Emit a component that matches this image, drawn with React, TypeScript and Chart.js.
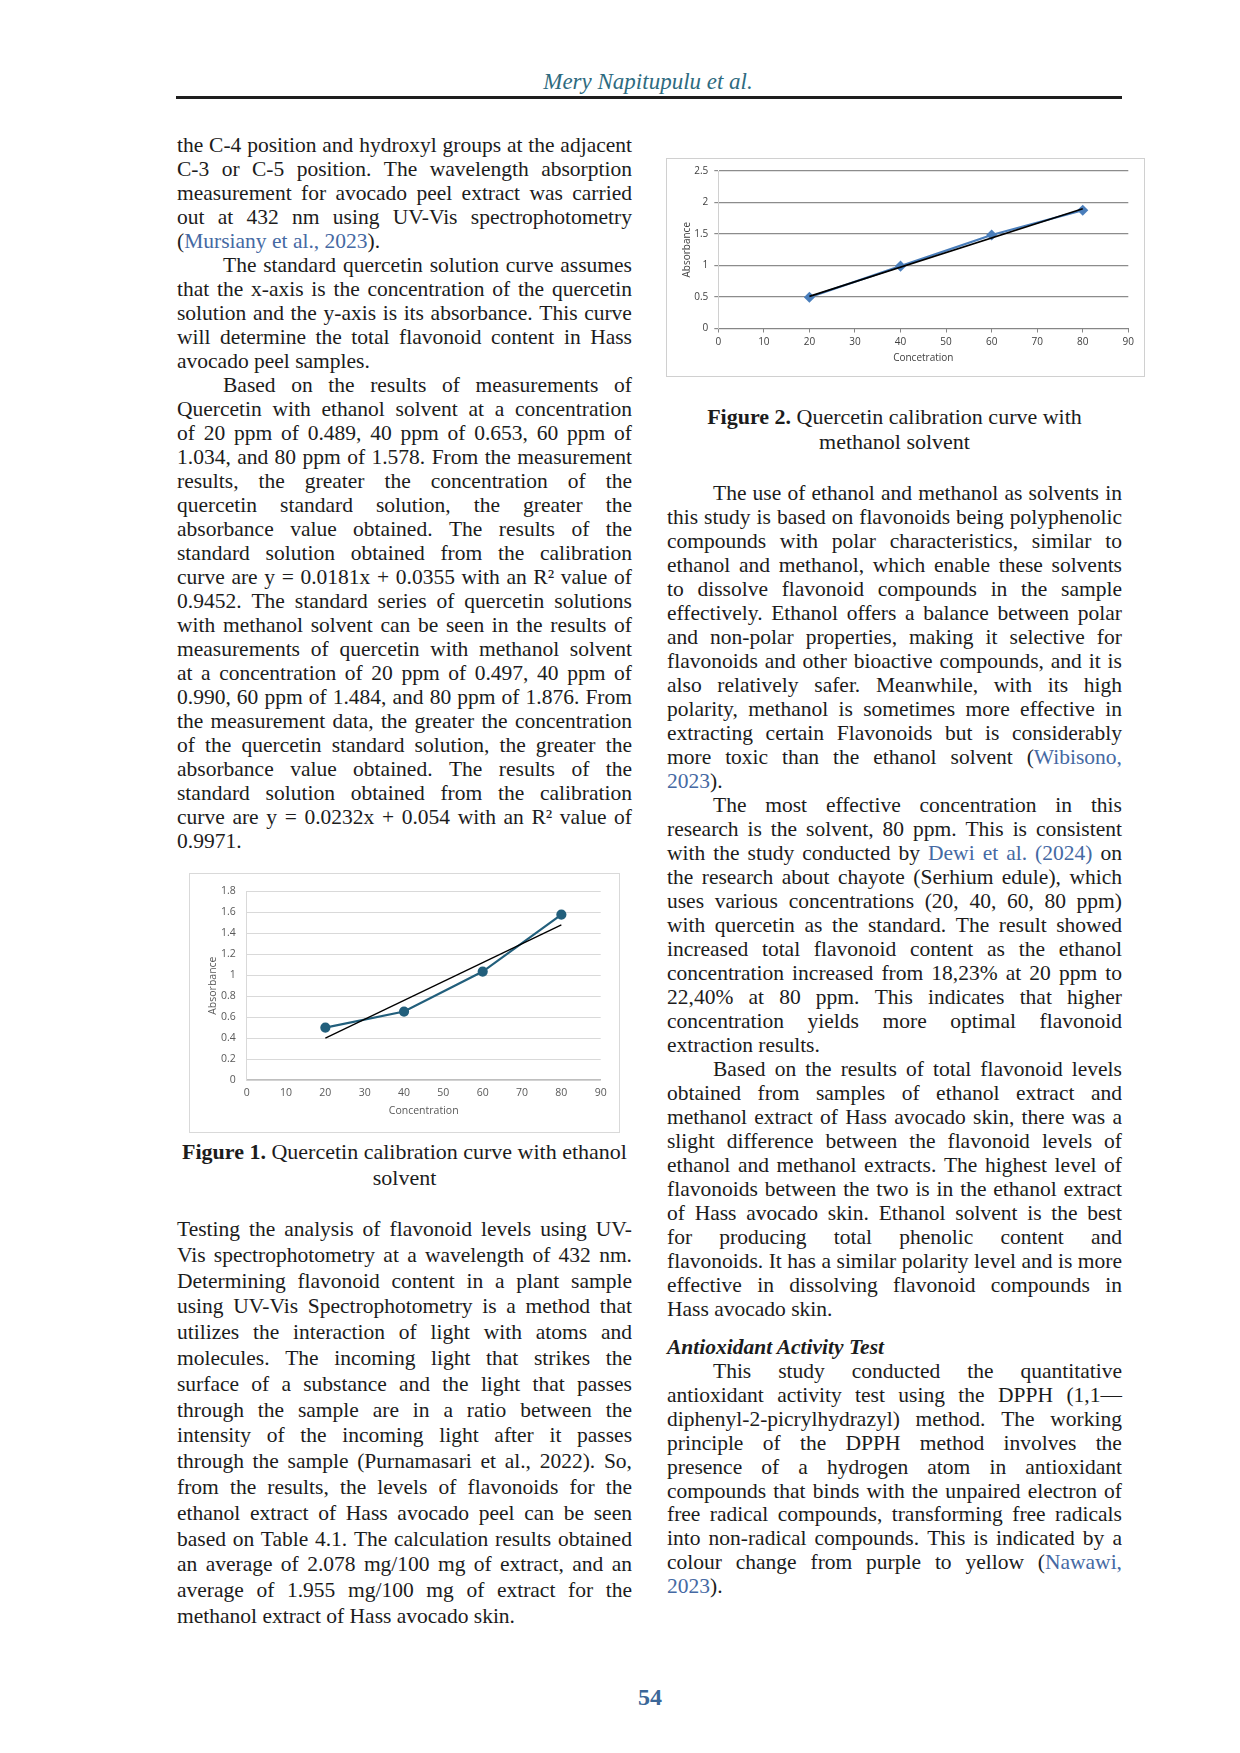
import React, { useEffect, useRef } from "react";
import { Chart, registerables } from "chart.js";

Chart.register(...registerables);

// ---------- chart data ----------
const concentrations = [20, 40, 60, 80];
const ethanolAbsorbance = [0.5, 0.653, 1.034, 1.578];
const ethanolTrendX = [20, 80];
const ethanolTrendY = [0.4, 1.48];
const methanolAbsorbance = [0.497, 0.99, 1.484, 1.876];
const methanolTrendX = [20, 80];
const methanolTrendY = [0.51, 1.9];
const xTickRange = [0, 90, 10];
const ethanolYRange = [0, 1.8, 0.2];
const methanolYRange = [0, 2.5, 0.5];

// ---------- page text ----------
// "^" = first-line indent, "$" = last line of paragraph (not justified), [..] = link colour
const leftTop = [
  "the C-4 position and hydroxyl groups at the adjacent",
  "C-3 or C-5 position. The wavelength absorption",
  "measurement for avocado peel extract was carried",
  "out at 432 nm using UV-Vis spectrophotometry",
  "([Mursiany et al., 2023]).$",
  "^The standard quercetin solution curve assumes",
  "that the x-axis is the concentration of the quercetin",
  "solution and the y-axis is its absorbance. This curve",
  "will determine the total flavonoid content in Hass",
  "avocado peel samples.$",
  "^Based on the results of measurements of",
  "Quercetin with ethanol solvent at a concentration",
  "of 20 ppm of 0.489, 40 ppm of 0.653, 60 ppm of",
  "1.034, and 80 ppm of 1.578. From the measurement",
  "results, the greater the concentration of the",
  "quercetin standard solution, the greater the",
  "absorbance value obtained. The results of the",
  "standard solution obtained from the calibration",
  "curve are y = 0.0181x + 0.0355 with an R² value of",
  "0.9452. The standard series of quercetin solutions",
  "with methanol solvent can be seen in the results of",
  "measurements of quercetin with methanol solvent",
  "at a concentration of 20 ppm of 0.497, 40 ppm of",
  "0.990, 60 ppm of 1.484, and 80 ppm of 1.876. From",
  "the measurement data, the greater the concentration",
  "of the quercetin standard solution, the greater the",
  "absorbance value obtained. The results of the",
  "standard solution obtained from the calibration",
  "curve are y = 0.0232x + 0.054 with an R² value of",
  "0.9971.$",
];

const leftBottom = [
  "Testing the analysis of flavonoid levels using UV-",
  "Vis spectrophotometry at a wavelength of 432 nm.",
  "Determining flavonoid content in a plant sample",
  "using UV-Vis Spectrophotometry is a method that",
  "utilizes the interaction of light with atoms and",
  "molecules. The incoming light that strikes the",
  "surface of a substance and the light that passes",
  "through the sample are in a ratio between the",
  "intensity of the incoming light after it passes",
  "through the sample (Purnamasari et al., 2022). So,",
  "from the results, the levels of flavonoids for the",
  "ethanol extract of Hass avocado peel can be seen",
  "based on Table 4.1. The calculation results obtained",
  "an average of 2.078 mg/100 mg of extract, and an",
  "average of 1.955 mg/100 mg of extract for the",
  "methanol extract of Hass avocado skin.$",
];

const rightTop = [
  "^The use of ethanol and methanol as solvents in",
  "this study is based on flavonoids being polyphenolic",
  "compounds with polar characteristics, similar to",
  "ethanol and methanol, which enable these solvents",
  "to dissolve flavonoid compounds in the sample",
  "effectively. Ethanol offers a balance between polar",
  "and non-polar properties, making it selective for",
  "flavonoids and other bioactive compounds, and it is",
  "also relatively safer. Meanwhile, with its high",
  "polarity, methanol is sometimes more effective in",
  "extracting certain Flavonoids but is considerably",
  "more toxic than the ethanol solvent ([Wibisono,]",
  "[2023]).$",
  "^The most effective concentration in this",
  "research is the solvent, 80 ppm. This is consistent",
  "with the study conducted by [Dewi et al. (2024)] on",
  "the research about chayote (Serhium edule), which",
  "uses various concentrations (20, 40, 60, 80 ppm)",
  "with quercetin as the standard. The result showed",
  "increased total flavonoid content as the ethanol",
  "concentration increased from 18,23% at 20 ppm to",
  "22,40% at 80 ppm. This indicates that higher",
  "concentration yields more optimal flavonoid",
  "extraction results.$",
  "^Based on the results of total flavonoid levels",
  "obtained from samples of ethanol extract and",
  "methanol extract of Hass avocado skin, there was a",
  "slight difference between the flavonoid levels of",
  "ethanol and methanol extracts. The highest level of",
  "flavonoids between the two is in the ethanol extract",
  "of Hass avocado skin. Ethanol solvent is the best",
  "for producing total phenolic content and",
  "flavonoids. It has a similar polarity level and is more",
  "effective in dissolving flavonoid compounds in",
  "Hass avocado skin.$",
];

const rightBottom = [
  "^This study conducted the quantitative",
  "antioxidant activity test using the DPPH (1,1—",
  "diphenyl-2-picrylhydrazyl) method. The working",
  "principle of the DPPH method involves the",
  "presence of a hydrogen atom in antioxidant",
  "compounds that binds with the unpaired electron of",
  "free radical compounds, transforming free radicals",
  "into non-radical compounds. This is indicated by a",
  "colour change from purple to yellow ([Nawawi,]",
  "[2023]).$",
];

const SERIF = "'Liberation Serif', 'Times New Roman', serif";
const SANS = "'Open Sans', 'Liberation Sans', sans-serif";
const LINK = "#4569a3";
const INK = "#1c1c1c";

type Seg = { t: string; blue: boolean };

function parseWords(line: string): Seg[][] {
  const words: Seg[][] = [];
  let cur: Seg[] = [];
  let blue = false;
  let buf = "";
  const flush = () => {
    if (buf) {
      cur.push({ t: buf, blue });
      buf = "";
    }
  };
  for (const ch of line) {
    if (ch === "[") {
      flush();
      blue = true;
    } else if (ch === "]") {
      flush();
      blue = false;
    } else if (ch === " ") {
      flush();
      if (cur.length) {
        words.push(cur);
        cur = [];
      }
    } else buf += ch;
  }
  flush();
  if (cur.length) words.push(cur);
  return words;
}

function Column({ lines, x, y0, step, width }: { lines: string[]; x: number; y0: number; step: number; width: number }) {
  return (
    <>
      {lines.map((raw, i) => {
        let s = raw;
        const indent = s.startsWith("^");
        if (indent) s = s.slice(1);
        const last = s.endsWith("$");
        if (last) s = s.slice(0, -1);
        const ind = indent ? 46 : 0;
        const words = parseWords(s);
        const cy = y0 + i * step;
        return (
          <div
            key={i}
            style={{
              position: "absolute",
              left: x + ind,
              top: cy - 12,
              width: width - ind,
              height: 24,
              lineHeight: "24px",
              display: "flex",
              justifyContent: last ? "flex-start" : "space-between",
              columnGap: last ? "0.25em" : 0,
              whiteSpace: "nowrap",
            }}
          >
            {words.map((w, j) => (
              <span key={j}>
                {w.map((sg, k) => (
                  <span key={k} style={sg.blue ? { color: LINK } : undefined}>
                    {sg.t}
                  </span>
                ))}
              </span>
            ))}
          </div>
        );
      })}
    </>
  );
}

function fmt(v: number | string) {
  return String(+Number(v).toFixed(2));
}

function EthanolChart() {
  const ref = useRef<HTMLCanvasElement | null>(null);
  useEffect(() => {
    if (!ref.current) return;
    const chart = new Chart(ref.current, {
      type: "scatter",
      data: {
        datasets: [
          {
            data: ethanolTrendX.map((x, i) => ({ x, y: ethanolTrendY[i] })),
            showLine: true,
            borderColor: "#000000",
            borderWidth: 1.3,
            pointRadius: 0,
          },
          {
            data: concentrations.map((x, i) => ({ x, y: ethanolAbsorbance[i] })),
            showLine: true,
            borderColor: "#225f7c",
            backgroundColor: "#225f7c",
            borderWidth: 2.2,
            pointRadius: 4,
            pointStyle: "circle",
          },
        ],
      },
      options: {
        animation: false,
        responsive: false,
        maintainAspectRatio: false,
        layout: { padding: { left: 16.4, right: 18.3, top: 13.3, bottom: 14.7 } },
        plugins: { legend: { display: false }, tooltip: { enabled: false } },
        scales: {
          x: {
            type: "linear",
            min: xTickRange[0],
            max: xTickRange[1],
            ticks: { stepSize: xTickRange[2], autoSkip: false, color: "#595959", font: { family: SANS, size: 10.5 }, padding: 6.5, maxRotation: 0 },
            grid: { display: false, drawTicks: false },
            border: { display: true, color: "#bfbfbf", width: 1.3 },
            title: { display: true, text: "Concentration", color: "#595959", font: { family: SANS, size: 10.5 }, padding: 0 },
            afterFit: (s: any) => {
              s.height = 37.3;
            },
          },
          y: {
            type: "linear",
            min: ethanolYRange[0],
            max: ethanolYRange[1],
            ticks: { stepSize: ethanolYRange[2], color: "#595959", font: { family: SANS, size: 10.5 }, padding: 11, callback: (v: any) => fmt(v) },
            grid: { color: "#d9d9d9", lineWidth: 1, drawTicks: false },
            border: { display: true, color: "#d9d9d9" },
            title: { display: true, text: "Absorbance", color: "#595959", font: { family: SANS, size: 10.5 }, padding: 0 },
            afterFit: (s: any) => {
              s.width = 40.3;
            },
          },
        },
      },
    } as any);
    return () => chart.destroy();
  }, []);
  return <canvas ref={ref} width={429} height={258} style={{ display: "block", width: 429, height: 258 }} />;
}

function MethanolChart() {
  const ref = useRef<HTMLCanvasElement | null>(null);
  useEffect(() => {
    if (!ref.current) return;
    const chart = new Chart(ref.current, {
      type: "scatter",
      data: {
        datasets: [
          {
            data: methanolTrendX.map((x, i) => ({ x, y: methanolTrendY[i] })),
            showLine: true,
            borderColor: "#000000",
            borderWidth: 1.6,
            pointRadius: 0,
          },
          {
            data: concentrations.map((x, i) => ({ x, y: methanolAbsorbance[i] })),
            showLine: true,
            borderColor: "#4a7ebb",
            backgroundColor: "#4a7ebb",
            borderWidth: 2.2,
            pointRadius: 4,
            pointStyle: "rectRot",
          },
        ],
      },
      options: {
        animation: false,
        responsive: false,
        maintainAspectRatio: false,
        layout: { padding: { left: 13.7, right: 15.7, top: 10, bottom: 12 } },
        plugins: { legend: { display: false }, tooltip: { enabled: false } },
        scales: {
          x: {
            type: "linear",
            min: xTickRange[0],
            max: xTickRange[1],
            ticks: { stepSize: xTickRange[2], autoSkip: false, color: "#404040", font: { family: SANS, size: 10 }, padding: 4, maxRotation: 0 },
            grid: { display: true, drawOnChartArea: false, drawTicks: true, tickLength: 4, color: "#868686" },
            border: { display: true, color: "#868686", width: 1 },
            title: { display: true, text: "Concetration", color: "#404040", font: { family: SANS, size: 10 }, padding: 0 },
            afterFit: (s: any) => {
              s.height = 35.5;
            },
          },
          y: {
            type: "linear",
            min: methanolYRange[0],
            max: methanolYRange[1],
            ticks: { stepSize: methanolYRange[2], color: "#404040", font: { family: SANS, size: 10 }, padding: 6, callback: (v: any) => fmt(v) },
            grid: { color: "#8c8c8c", lineWidth: 1.2, drawTicks: true, tickLength: 4 },
            border: { display: true, color: "#d0d0d0" },
            title: { display: true, text: "Absorbance", color: "#404040", font: { family: SANS, size: 10 }, padding: 0 },
            afterFit: (s: any) => {
              s.width = 37.6;
            },
          },
        },
      },
    } as any);
    return () => chart.destroy();
  }, []);
  return <canvas ref={ref} width={477} height={217} style={{ display: "block", width: 477, height: 217 }} />;
}

export default function App() {
  const L = 177;
  const R = 667;
  const W = 455;
  return (
    <div
      style={{
        position: "absolute",
        left: 0,
        top: 0,
        width: 1240,
        height: 1753,
        background: "#ffffff",
        fontFamily: SERIF,
        fontSize: 21.5,
        color: INK,
        overflow: "hidden",
      }}
    >
      {/* running header */}
      <div
        style={{
          position: "absolute",
          left: 0,
          width: 1296,
          top: 68,
          textAlign: "center",
          fontStyle: "italic",
          fontSize: 23,
          lineHeight: "28px",
          color: "#2e6b7f",
        }}
      >
        Mery Napitupulu et al.
      </div>
      <div style={{ position: "absolute", left: 176, top: 96, width: 946, height: 2.5, background: "#1e1e1e" }} />

      {/* left column */}
      <Column lines={leftTop} x={L} y0={145} step={24} width={W} />

      <div
        style={{
          position: "absolute",
          left: 189,
          top: 873,
          width: 431,
          height: 260,
          boxSizing: "border-box",
          border: "1px solid #d9d9d9",
          background: "#fff",
        }}
      >
        <EthanolChart />
      </div>
      <div style={{ position: "absolute", left: L, width: W, top: 1139, textAlign: "center", lineHeight: "26px", fontSize: 22 }}>
        <b>Figure 1.</b> Quercetin calibration curve with ethanol
        <br />
        solvent
      </div>

      <Column lines={leftBottom} x={L} y0={1229} step={25.8} width={W} />

      {/* right column */}
      <div
        style={{
          position: "absolute",
          left: 666,
          top: 158,
          width: 479,
          height: 219,
          boxSizing: "border-box",
          border: "1px solid #d0d0d0",
          background: "#fff",
        }}
      >
        <MethanolChart />
      </div>
      <div style={{ position: "absolute", left: R, width: W, top: 404, textAlign: "center", lineHeight: "25px", fontSize: 22 }}>
        <b>Figure 2.</b> Quercetin calibration curve with
        <br />
        methanol solvent
      </div>

      <Column lines={rightTop} x={R} y0={493} step={24} width={W} />

      <div
        style={{
          position: "absolute",
          left: R,
          top: 1335,
          lineHeight: "24px",
          fontWeight: "bold",
          fontStyle: "italic",
          fontSize: 21.5,
        }}
      >
        Antioxidant Activity Test
      </div>

      <Column lines={rightBottom} x={R} y0={1371} step={23.9} width={W} />

      {/* page number */}
      <div
        style={{
          position: "absolute",
          left: 0,
          width: 1300,
          top: 1682,
          textAlign: "center",
          fontWeight: "bold",
          fontSize: 24,
          lineHeight: "30px",
          color: "#3b6798",
        }}
      >
        54
      </div>
    </div>
  );
}
